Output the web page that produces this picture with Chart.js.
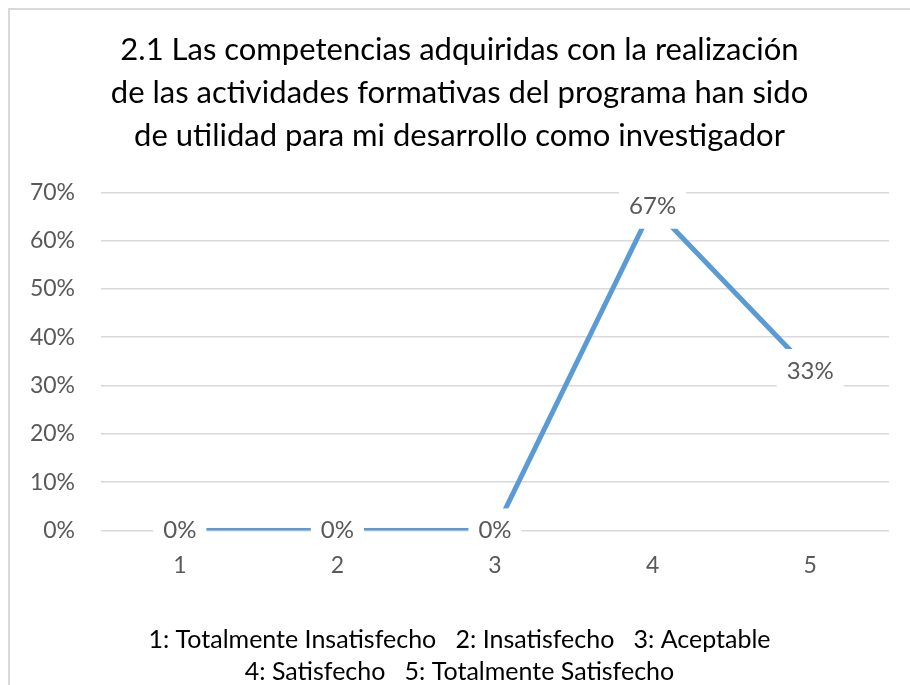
<!DOCTYPE html>
<html>
<head>
<meta charset="utf-8">
<script src="https://cdn.jsdelivr.net/npm/chart.js@4/dist/chart.umd.min.js"></script>
<style>
  html, body { margin: 0; padding: 0; background: #fff; overflow: hidden; }
  #frame { position: absolute; left: 8px; top: 8px; width: 920px; height: 700px; border-left: 2px solid #d9d9d9; border-top: 2px solid #d9d9d9; }
  #wrap { position: absolute; left: 0; top: 0; width: 910px; height: 700px; }
</style>
</head>
<body>
<div id="frame"></div>
<div id="wrap"><canvas id="chart"></canvas></div>
<script>
// categories, values and text
var categories = ["1", "2", "3", "4", "5"];
var percentages = [0, 0, 0, 0.67, 0.33];
var yTicks = [0, 0.1, 0.2, 0.3, 0.4, 0.5, 0.6, 0.7];
var titleLines = [
  "2.1 Las competencias adquiridas con la realización",
  "de las actividades formativas del programa han sido",
  "de utilidad para mi desarrollo como investigador"
];
var noteLines = [
  "1: Totalmente Insatisfecho   2: Insatisfecho   3: Aceptable",
  "4: Satisfecho   5: Totalmente Satisfecho"
];

var labelColor = "#595959";
var fontName = "Lato, 'Open Sans', sans-serif";

// draws value labels on white boxes, centred on each point
var valueLabels = {
  id: "valueLabels",
  afterDatasetsDraw: function(chart) {
    var ctx = chart.ctx;
    var meta = chart.getDatasetMeta(0);
    ctx.save();
    ctx.font = "24px " + fontName;
    ctx.textAlign = "center";
    ctx.textBaseline = "middle";
    meta.data.forEach(function(pt, i) {
      var txt = Math.round(percentages[i] * 100) + "%";
      var w = ctx.measureText(txt).width;
      ctx.fillStyle = "#fff";
      ctx.fillRect(pt.x - w / 2 - 10, pt.y - 22, w + 20, 44);
      ctx.fillStyle = labelColor;
      ctx.fillText(txt, pt.x, pt.y);
    });
    ctx.restore();
  }
};

var ctx = document.getElementById("chart").getContext("2d");
var chart = new Chart(ctx, {
  type: "line",
  data: {
    labels: categories,
    datasets: [{
      data: percentages,
      borderColor: "#5b9bd5",
      borderWidth: 5,
      pointRadius: 0,
      tension: 0,
      fill: false
    }]
  },
  options: {
    responsive: true,
    maintainAspectRatio: false,
    animation: false,
    layout: { padding: { left: 30, right: 21, top: 0, bottom: 0 } },
    plugins: {
      legend: { display: false },
      tooltip: { enabled: false },
      title: {
        display: true,
        text: titleLines,
        color: "#000",
        font: { family: fontName, size: 31, weight: "normal", lineHeight: 1.39 },
        padding: { top: 28, bottom: 35 }
      },
      subtitle: {
        display: true,
        position: "bottom",
        text: noteLines,
        color: "#000",
        font: { family: fontName, size: 25, weight: "normal", lineHeight: 1.28 },
        padding: { top: 24, bottom: 12 }
      }
    },
    scales: {
      x: {
        offset: true,
        grid: { display: false, drawTicks: false },
        border: { display: false },
        ticks: { color: labelColor, font: { family: fontName, size: 23 }, padding: 21 }
      },
      y: {
        min: 0,
        max: 0.7,
        afterBuildTicks: function(axis) {
          axis.ticks = yTicks.map(function(v) { return { value: v }; });
        },
        afterFit: function(axis) {
          axis.width = 71;
        },
        grid: { color: "#d9d9d9", lineWidth: 1.5, drawTicks: false },
        border: { display: false },
        ticks: {
          color: labelColor,
          font: { family: fontName, size: 23 },
          padding: 26,
          callback: function(v) { return Math.round(v * 100) + "%"; }
        }
      }
    }
  },
  plugins: [valueLabels]
});
</script>
</body>
</html>
